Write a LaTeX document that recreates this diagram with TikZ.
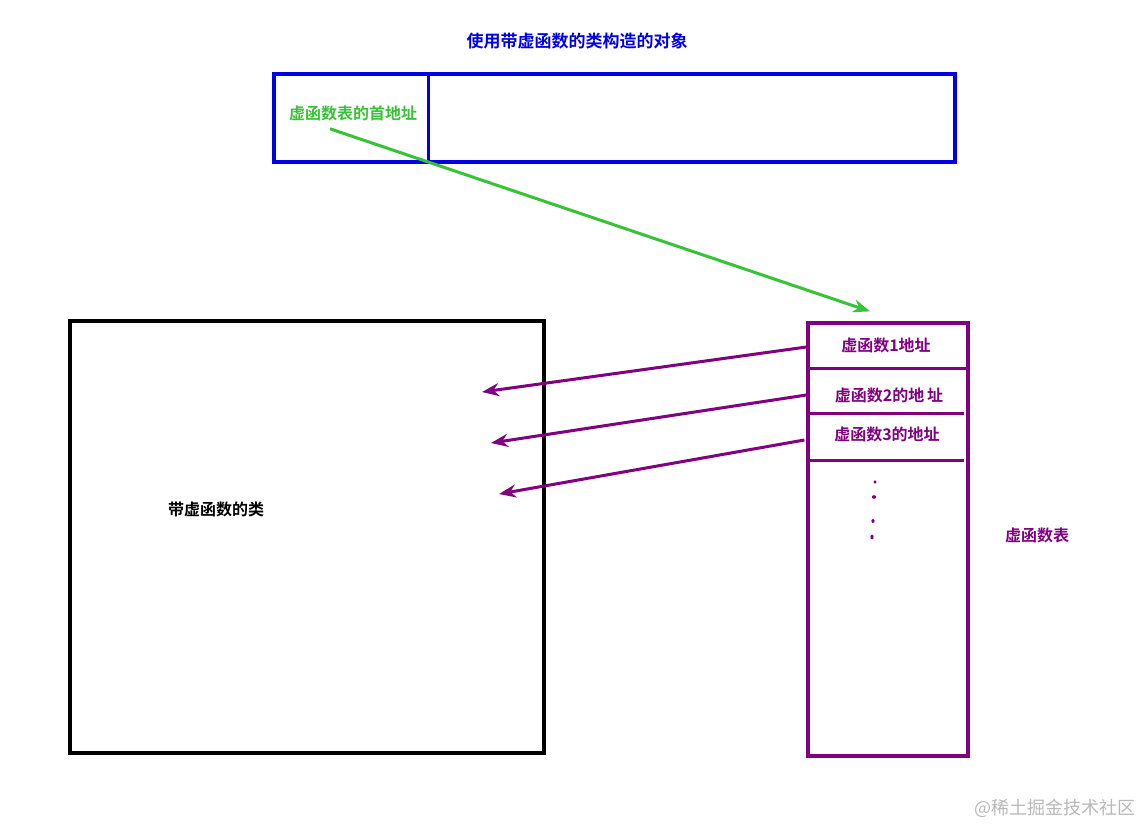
\documentclass[tikz,border=0pt]{standalone}
\usepackage{fontspec}
\setmainfont{Noto Sans CJK SC}[BoldFont={Noto Sans CJK SC Bold}]
\usetikzlibrary{arrows.meta,calc}
\definecolor{objblue}{RGB}{0,0,230}
\definecolor{ptrgreen}{RGB}{55,195,55}
\definecolor{vpurple}{RGB}{128,0,128}
\definecolor{wmgray}{RGB}{185,185,185}
\begin{document}
\begin{tikzpicture}[x=1pt,y=-1pt,
  lbl/.style={font=\fontsize{16}{19}\selectfont\bfseries, inner sep=0pt},
  frame/.style={draw, line width=3.2pt, inner sep=0pt},
  ptrarrow/.style={-{Stealth[length=17pt,width=13pt]}, line width=3pt},
  rowline/.style={vpurple, line width=3pt},
  dotmark/.style={fill=vpurple, draw=none}]
\useasboundingbox (0,0) rectangle (1141,826);
\fill[white] (0,0) rectangle (1141,826);

% title
\node[lbl, text=objblue, font=\fontsize{17}{20}\selectfont\bfseries] (title) at (577,41) {使用带虚函数的类构造的对象};

% object box
\node[frame, draw=objblue, minimum width=681pt, minimum height=88pt] (obj) at (614.5,118) {};
\draw[objblue, line width=3pt] (428,76) -- (428,160);
\node[lbl, text=ptrgreen] (ptr) at (353,113) {虚函数表的首地址};

% class box
\node[frame, draw=black, minimum width=474pt, minimum height=432pt] (cls) at (307,537) {};
\node[lbl, text=black] (clslbl) at (216,509) {带虚函数的类};

% vtable
\node[frame, draw=vpurple, minimum width=160pt, minimum height=433pt] (vtab) at (888,539.5) {};
\draw[rowline] (808,369) -- (968,369);
\draw[rowline] (808,413) -- (964,413);
\draw[rowline] (808,460) -- (964,460);
\node[lbl, text=vpurple] (r1) at (886,345) {虚函数1地址};
\node[lbl, text=vpurple] (r2) at (889,395) {虚函数2的地\,址};
\node[lbl, text=vpurple] (r3) at (887,434) {虚函数3的地址};
\fill[dotmark] (875,482) ellipse (1.6pt and 1.8pt);
\fill[dotmark] (874,497) ellipse (2.2pt and 1.8pt);
\fill[dotmark] (873,521) ellipse (1.6pt and 2pt);
\fill[dotmark] (872,537) ellipse (1.6pt and 2.4pt);
\node[lbl, text=vpurple] (vlbl) at (1037,535) {虚函数表};

% green pointer
\draw[ptrarrow, ptrgreen] ($(ptr.south)+(-23,8)$) -- ($(vtab.north)+(-18,-10)$);

% purple arrows
\coordinate (t1) at (482,392);
\coordinate (t2) at (491,443);
\coordinate (t3) at (499,494);
\draw[ptrarrow, vpurple] (vtab.west |- r1) ++(0,2) -- (t1);
\draw[ptrarrow, vpurple] (vtab.west |- r2) -- (t2);
\draw[ptrarrow, vpurple] ($(vtab.west |- r3)+(-2,6)$) -- (t3);

% watermark
\node[font=\fontsize{18}{21}\selectfont, text=wmgray, inner sep=0pt] (wm) at (1055,808) {@稀土掘金技术社区};
\end{tikzpicture}
\end{document}
